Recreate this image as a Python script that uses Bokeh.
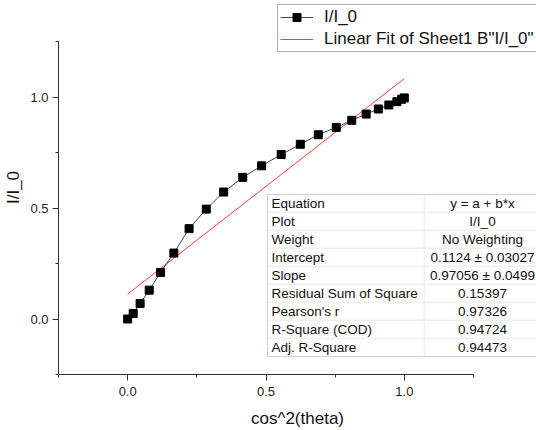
from bokeh.plotting import figure
from bokeh.models import (Legend, LegendItem, Label, BoxAnnotation, FixedTicker, Range1d)
from bokeh.embed import file_html
from bokeh.resources import INLINE

# ---- data ----
cos2_theta = [0.0, 0.02, 0.045, 0.078, 0.119, 0.167, 0.222, 0.284, 0.347, 0.416,
              0.484, 0.555, 0.624, 0.689, 0.754, 0.810, 0.862, 0.906, 0.944,
              0.973, 0.990, 1.0]
intensity_ratio = [0.0, 0.025, 0.07, 0.13, 0.21, 0.297, 0.407, 0.495, 0.572, 0.638,
                   0.690, 0.741, 0.787, 0.830, 0.863, 0.895, 0.923, 0.946, 0.964,
                   0.979, 0.990, 0.996]
fit_intercept = 0.1124
fit_slope = 0.97056

x_axis_bounds = (-0.25, 1.25)
y_axis_bounds = (-0.25, 1.25)
x_ticks = [0.0, 0.5, 1.0]
x_minor_ticks = [-0.25, 0.25, 0.75, 1.25]
x_tick_labels = ["0.0", "0.5", "1.0"]
y_ticks = [0.0, 0.5, 1.0]
y_minor_ticks = [-0.25, 0.25, 0.75, 1.25]
y_tick_labels = ["0.0", "0.5", "1.0"]

table_names = ["Equation", "Plot", "Weight", "Intercept", "Slope",
               "Residual Sum of Square", "Pearson's r", "R-Square (COD)",
               "Adj. R-Square"]
table_values = ["y = a + b*x", "I/I_0", "No Weighting", "0.1124 \u00b1 0.03027",
                "0.97056 \u00b1 0.0499", "0.15397", "0.97326", "0.94724", "0.94473"]

FONT = "Liberation Sans"

# frame spans the whole area right of / above the axes; the axes themselves are
# bounded to -0.25..1.25 so that the legend and table can sit outside that span
p = figure(width=536, height=430,
           x_range=Range1d(-0.25, 1.4777), y_range=Range1d(-0.25, 1.4347),
           output_backend="svg", toolbar_location=None,
           min_border_left=58, min_border_right=0,
           min_border_top=0, min_border_bottom=56)
p.outline_line_color = None
p.xgrid.visible = False
p.ygrid.visible = False
p.background_fill_color = "white"
p.border_fill_color = "white"

for ax, ticks, minor, labels, bnds in (
        (p.xaxis[0], x_ticks, x_minor_ticks, x_tick_labels, x_axis_bounds),
        (p.yaxis[0], y_ticks, y_minor_ticks, y_tick_labels, y_axis_bounds)):
    ax.bounds = bnds
    ax.ticker = FixedTicker(ticks=ticks, minor_ticks=minor)
    ax.major_label_overrides = {t: l for t, l in zip(ticks, labels)}
    ax.axis_line_color = "#333333"
    ax.major_tick_line_color = "#333333"
    ax.minor_tick_line_color = "#333333"
    ax.major_tick_in = 0
    ax.major_tick_out = 6
    ax.minor_tick_in = 0
    ax.minor_tick_out = 3
    ax.major_label_text_font = FONT
    ax.major_label_text_font_size = "13px"
    ax.major_label_text_color = "#222222"
    ax.axis_label_text_font = FONT
    ax.axis_label_text_font_size = "17px"
    ax.axis_label_text_font_style = "normal"
    ax.axis_label_text_color = "#111111"

p.xaxis.axis_label = "cos^2(theta)"
p.yaxis.axis_label = "I/I_0"
p.xaxis.major_label_standoff = 6
p.xaxis.axis_label_standoff = 10
p.yaxis.major_label_standoff = 4
p.yaxis.axis_label_standoff = 4

# fit line over the data span
fx = [min(cos2_theta), max(cos2_theta)]
fy = [fit_intercept + fit_slope * v for v in fx]
fit_r = p.line(fx, fy, line_color="#ff3b3b", line_width=1)

line_r = p.line(cos2_theta, intensity_ratio, line_color="#444444", line_width=1)
sq_r = p.scatter(cos2_theta, intensity_ratio, marker="square", size=8,
                 fill_color="black", line_color="black")

legend = Legend(items=[LegendItem(label="I/I_0", renderers=[line_r, sq_r]),
                       LegendItem(label='Linear Fit of Sheet1 B"I/I_0"', renderers=[fit_r])],
                location=(219, 322))
legend.label_text_font = FONT
legend.label_text_font_size = "17px"
legend.label_text_color = "#111111"
legend.glyph_width = 33
legend.glyph_height = 20
legend.label_height = 20
legend.label_width = 230
legend.label_standoff = 11
legend.spacing = 2
legend.padding = 2
legend.margin = 0
legend.border_line_color = "#666666"
legend.border_line_width = 1
legend.background_fill_color = "white"
legend.background_fill_alpha = 1
p.add_layout(legend)

# statistics table (screen units relative to the plot frame)
t_left, t_div, t_right, t_top, row_h = 209, 366, 482, 180, 18
for i, (name, val) in enumerate(zip(table_names, table_values)):
    top = t_top - row_h * i
    for l, r in ((t_left, t_div), (t_div, t_right)):
        p.add_layout(BoxAnnotation(left=l, right=r, top=top, bottom=top - row_h,
                                   left_units="screen", right_units="screen",
                                   top_units="screen", bottom_units="screen",
                                   fill_color="white", fill_alpha=1,
                                   line_color="#d9d9d9", line_width=1.5))
    p.add_layout(Label(x=t_left + 4, y=top - row_h / 2, x_units="screen", y_units="screen",
                       text=name, text_align="left", text_baseline="middle",
                       text_font=FONT, text_font_size="13.5px", text_color="#111111"))
    p.add_layout(Label(x=(t_div + t_right) / 2, y=top - row_h / 2, x_units="screen",
                       y_units="screen", text=val, text_align="center",
                       text_baseline="middle", text_font=FONT, text_font_size="13.5px",
                       text_color="#111111"))
p.add_layout(BoxAnnotation(left=t_left, right=t_right, top=t_top,
                           bottom=t_top - row_h * len(table_names),
                           left_units="screen", right_units="screen",
                           top_units="screen", bottom_units="screen",
                           fill_alpha=0, line_color="#888888", line_width=1))

open("out.html", "w").write(file_html(p, INLINE))
